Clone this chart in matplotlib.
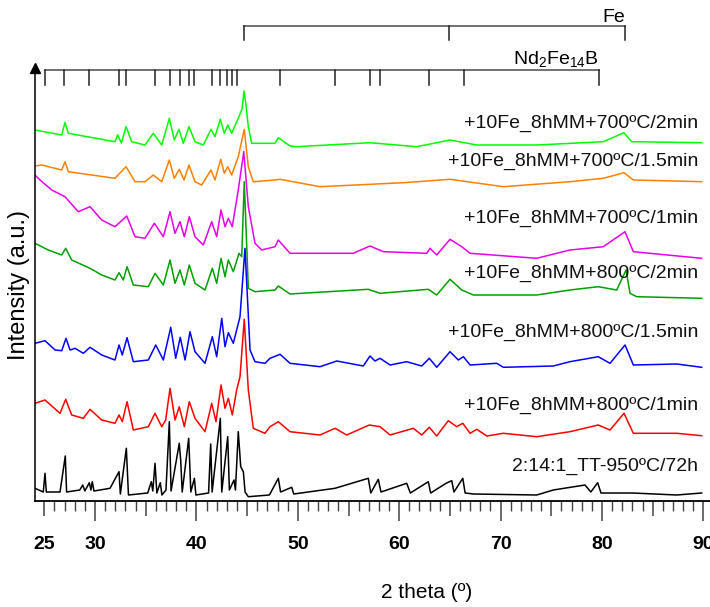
import matplotlib
matplotlib.use("Agg")
import matplotlib.pyplot as plt
from matplotlib.ticker import MultipleLocator

plt.rcParams['font.family'] = ['Liberation Sans', 'DejaVu Sans']
plt.rcParams['mathtext.fontset'] = 'custom'
plt.rcParams['mathtext.rm'] = 'Liberation Sans'
plt.rcParams['mathtext.it'] = 'Liberation Sans:italic'

# ---------------- data (2theta in degrees, intensity in a.u., offset stacked) ----------------
lime_x = [24.08, 26.72, 27.04, 27.37, 31.97, 32.24, 32.6, 33.06, 33.62, 34.93, 35.75, 36.58, 37.33, 37.82,
          38.28, 38.71, 39.27, 39.86, 40.68, 41.44, 41.83, 42.36, 42.75, 43.09, 43.48, 44.13, 44.5, 44.70,
          44.9, 45.12, 45.45, 47.75, 48.08, 49.23, 49.90, 57.12, 61.73, 65.01, 67.65, 73.56, 80.13, 82.17,
          82.93, 89.83]
lime_y = [371, 366, 378.7, 367.7, 359.3, 366, 358, 374.3, 359.3, 356, 367.7, 356, 382.7, 361,
          371.7, 357.7, 374.3, 359.3, 356, 371.7, 364.3, 381.7, 367.7, 376, 367.7, 382.7, 392, 410,
          395, 374.3, 357.7, 357.7, 363.3, 355, 354.3, 358.3, 354.3, 361, 356, 356, 359.3, 368.3,
          359.3, 358.3]

orange_x = [24.08, 24.74, 26.72, 27.04, 27.37, 31.97, 33.06, 33.95, 34.93, 35.75, 36.58, 37.33, 37.82,
            38.31, 38.78, 39.27, 39.86, 40.52, 41.44, 41.83, 42.40, 42.75, 43.09, 43.48, 44.13, 44.72,
            45.12, 45.61, 47.75, 48.25, 52.19, 60.41, 65.01, 70.27, 76.84, 80.13, 82.17, 83.09, 89.83]
orange_y = [335, 336, 331, 339.3, 329.3, 322.7, 334.3, 319.3, 319.3, 326, 319.3, 341, 322.7,
            331.7, 321, 336, 319.3, 316, 331, 321, 341.7, 327.7, 334.3, 326, 344.3, 371.7,
            334.3, 319.3, 321, 321.7, 314.3, 318.3, 321.7, 314.3, 319.3, 322.7, 328.3, 321, 319.3]

magenta_x = [24.08, 24.58, 25.73, 27.04, 28.35, 29.51, 30.66, 31.97, 33.13, 33.95, 34.93, 35.85, 36.74,
             37.40, 37.89, 38.38, 38.81, 39.30, 39.86, 40.68, 41.51, 42.00, 42.43, 42.82, 43.15, 43.54,
             44.13, 44.67, 45.12, 45.78, 46.44, 47.75, 48.08, 49.23, 55.47, 57.12, 58.44, 62.71, 63.04,
             63.70, 65.01, 66.17, 66.99, 73.56, 76.84, 80.13, 82.27, 83.09, 89.83]
magenta_y = [326, 321, 311, 304.3, 289.3, 294.3, 281, 274.3, 285, 264.3, 262.7, 277.7, 264.3,
             289.3, 267.7, 279.3, 264.3, 284.3, 264.3, 256, 279.3, 264.3, 291, 274.3, 282.7, 274.3,
             311, 349.3, 294.3, 257.7, 251, 254.3, 261, 247.7, 247.7, 255, 249.3, 247.7, 252.7,
             246, 261.7, 254.3, 247.7, 242.7, 251, 254.3, 269.3, 249.3, 242.7]

dgreen_x = [24.08, 25.39, 26.72, 27.11, 27.70, 29.51, 30.66, 31.97, 32.37, 32.79, 33.16, 33.78, 35.26,
            35.92, 36.74, 37.40, 37.89, 38.38, 38.81, 39.30, 39.86, 40.85, 41.57, 42.00, 42.43, 42.82,
            43.15, 43.64, 44.20, 44.47, 44.72, 45.12, 45.78, 47.75, 48.08, 49.23, 56.95, 58.11, 62.87,
            63.70, 65.01, 66.17, 67.32, 73.56, 76.84, 79.63, 81.45, 82.37, 82.76, 83.42, 89.83]
dgreen_y = [257.7, 251, 246, 252.7, 241, 232.7, 226, 221, 228.3, 221, 234.3, 216, 214.3,
            227.7, 216, 241, 217.7, 231, 216, 236, 217.7, 211, 232.7, 217.7, 242.7, 224.3,
            241, 229.3, 247.7, 244.3, 319.3, 212.7, 209.3, 211, 215, 207, 211.7, 207.7, 211.7,
            206, 221.7, 211, 206, 206, 211, 214.3, 211, 231, 207.7, 204.3, 202.7]

blue_x = [24.08, 25.07, 26.06, 26.72, 27.14, 27.54, 28.03, 28.85, 29.51, 30.66, 31.97, 32.37, 32.69,
          33.16, 33.78, 35.26, 35.99, 36.74, 37.47, 37.96, 38.41, 38.88, 39.37, 39.86, 40.85, 41.57,
          42.00, 42.50, 42.82, 43.15, 43.64, 44.30, 44.79, 45.29, 45.78, 46.76, 47.26, 48.25, 49.23,
          52.19, 53.84, 56.46, 57.12, 57.61, 58.11, 59.10, 60.74, 62.22, 62.97, 63.70, 65.01, 65.83,
          66.33, 66.99, 69.62, 70.27, 75.20, 76.84, 79.63, 80.79, 82.27, 83.09, 87.37, 89.83]
blue_y = [157.7, 160.3, 151, 150.3, 162.7, 151, 152.7, 147.7, 153.7, 146, 141, 156, 146,
          163.3, 139.3, 141, 156, 141, 173.7, 142.7, 163.7, 141, 169.3, 149.3, 137.7, 164.3,
          144.3, 182.7, 154.3, 168.3, 157.7, 184.3, 252.7, 151, 139.3, 137.7, 142.7, 146.7, 137.7,
          134.3, 140, 135, 145, 140, 142.7, 136, 139.3, 135, 142.7, 133.7, 149.3, 141,
          144.3, 136, 137.7, 133.7, 135, 139.3, 144.3, 137.7, 156, 136, 137, 133.7]

red_x = [24.08, 25.07, 26.55, 27.11, 27.70, 28.85, 29.51, 30.66, 31.97, 32.37, 32.69, 33.16, 33.78,
         35.26, 35.92, 36.58, 36.97, 37.40, 37.89, 38.31, 38.81, 39.30, 39.86, 40.85, 41.51, 41.93,
         42.43, 42.82, 43.15, 43.54, 43.97, 44.30, 44.72, 45.12, 45.61, 46.76, 47.26, 48.08, 49.23,
         52.19, 53.67, 54.82, 57.05, 58.11, 59.10, 61.40, 62.22, 62.97, 63.70, 64.84, 65.67, 66.27,
         66.99, 67.65, 68.64, 70.27, 73.56, 76.84, 79.63, 80.79, 82.17, 83.09, 87.37, 89.83]
red_y = [97.7, 101, 87.7, 101.7, 86, 82.7, 91.7, 81, 77.7, 86, 79.3, 99.3, 71,
         74.3, 87.7, 74.3, 81, 112.7, 81, 94.3, 74.3, 99.3, 82.7, 69.3, 97.7, 79.3,
         116, 92.7, 102.7, 86, 111, 124.3, 181.7, 111, 72.7, 67.7, 74.3, 79.3, 69.3,
         66, 72.7, 66, 76, 74.3, 66, 72.7, 66, 73.7, 65, 80.3, 74.3, 77.7,
         67.7, 71.7, 65, 67.7, 64.3, 69.3, 76, 71, 87.7, 67.7, 67.7, 65.3]

black_x = [24.08, 24.9, 25.07, 25.2, 26.55, 27.07, 27.2, 28.5, 28.79, 29.0, 29.44, 29.6, 29.73, 29.9,
           31.48, 32.37, 32.5, 33.09, 33.3, 35.2, 35.55, 35.7, 35.92, 36.1, 36.44, 36.6, 37.0, 37.33,
           37.5, 38.31, 38.45, 38.6, 39.24, 39.35, 39.45, 39.80, 39.95, 41.2, 41.41, 41.55, 42.36, 42.5,
           43.09, 43.25, 43.71, 43.85, 44.13, 44.37, 44.63, 44.8, 45.12, 47.2, 48.08, 48.3, 49.40, 49.6,
           53.67, 56.95, 57.2, 57.94, 58.2, 60.74, 61.1, 62.87, 63.1, 64.62, 65.18, 65.4, 66.27, 66.5,
           67.32, 73.56, 75.20, 78.32, 78.9, 79.57, 79.9, 83.0, 87.37, 89.83]
black_y = [12.7, 9, 27.7, 9, 9, 45, 9, 11, 16, 10, 18.3, 11, 19.3, 10,
           12.7, 29.3, 7, 52.7, 6, 8, 19.3, 10, 37.7, 8, 18.3, 6, 11, 79.3,
           10, 57.7, 41, 9, 62.7, 35, 9, 22.7, 6, 8, 57, 9, 82.7, 9,
           64.3, 11, 21, 11, 69.3, 34.3, 29.3, 9, 4.3, 6, 22.7, 9, 13.7, 7,
           12.7, 22.7, 8, 21.7, 9, 17.7, 8, 19.3, 8, 17.7, 20.3, 9, 22.7, 8,
           7, 6, 11, 16, 9, 18.3, 8, 8, 6, 8]

series_labels = ['+10Fe_8hMM+700ºC/2min', '+10Fe_8hMM+700ºC/1.5min', '+10Fe_8hMM+700ºC/1min',
                 '+10Fe_8hMM+800ºC/2min', '+10Fe_8hMM+800ºC/1.5min', '+10Fe_8hMM+800ºC/1min',
                 '2:14:1_TT-950ºC/72h']
label_y = [373.3, 335, 278.3, 223.3, 164.3, 91, 30]

fe_peaks = [44.72, 64.95, 82.25]
nd_peaks = [25.07, 26.97, 29.38, 32.37, 33.07, 35.96, 37.41, 38.40, 39.31, 39.81, 41.55, 42.31, 43.0,
            43.53, 44.05, 48.2, 53.63, 57.08, 58.07, 62.98, 66.36, 79.69]

x_major = [25, 30, 35, 40, 45, 50, 55, 60, 65, 70, 75, 80, 85, 90]
x_major_labels = ['25', '30', '', '40', '', '50', '', '60', '', '70', '', '80', '', '90']

# ---------------- figure ----------------
W, H = 710, 607
fig = plt.figure(figsize=(W / 100, H / 100), dpi=100)
ax = fig.add_axes([35 / W, (H - 501) / H, (W - 35) / W, 433 / H])
ax.set_xlim(24.083, 90.65)
ax.set_ylim(0, 433)

series = [(lime_x, lime_y, '#00FF00'), (orange_x, orange_y, '#FF8000'),
          (magenta_x, magenta_y, '#E800E8'), (dgreen_x, dgreen_y, '#00A000'),
          (blue_x, blue_y, '#0000FF'), (red_x, red_y, '#FF0000'), (black_x, black_y, '#000000')]
for xs, ys, c in series:
    ax.plot(xs, ys, color=c, lw=1.1)

for lab, ly in zip(series_labels, label_y):
    ax.text(89.47, ly, lab, ha='right', va='baseline', fontsize=14, color='#111111')

# reference peak markers
fe_h, fe_t = 475, 461
nd_h, nd_t = 431, 416
ax.plot([fe_peaks[0], fe_peaks[-1]], [fe_h, fe_h], color='#666666', lw=1.3, clip_on=False)
for p in fe_peaks:
    ax.plot([p, p], [fe_h, fe_t], color='#222222', lw=1.1, clip_on=False)
ax.plot([nd_peaks[0], nd_peaks[-1]], [nd_h, nd_h], color='#666666', lw=1.3, clip_on=False)
for p in nd_peaks:
    ax.plot([p, p], [nd_h, nd_t], color='#222222', lw=1.1, clip_on=False)
ax.text(82.3, 479.5, 'Fe', ha='right', va='baseline', fontsize=14, clip_on=False)
ax.text(79.7, 437, r'Nd$_2$Fe$_{14}$B', ha='right', va='baseline', fontsize=14, clip_on=False)

# axes styling
for s in ['top', 'right']:
    ax.spines[s].set_visible(False)
ax.spines['bottom'].set_linewidth(1.3)
ax.spines['left'].set_linewidth(1.1)
ax.set_yticks([])
ax.set_xticks(x_major)
ax.set_xticklabels(x_major_labels, fontsize=14, fontweight='bold')
ax.xaxis.set_minor_locator(MultipleLocator(1))
ax.tick_params(axis='x', which='major', length=14.4, width=1.1, color='#444444', pad=11)
ax.tick_params(axis='x', which='minor', length=7.2, width=1.0, color='#444444')
for t, v in zip(ax.xaxis.get_major_ticks(), x_major):
    t.tick1line.set_markersize(10.8 if v % 10 else 14.4)
ax.plot([0], [1], marker='^', ms=7, color='black', transform=ax.transAxes, clip_on=False)

fig.text(427 / W, 1 - 598 / H, '2 theta (º)', ha='center', va='baseline', fontsize=15)
fig.text(19 / W, 1 - 285 / H, 'Intensity (a.u.)', ha='center', va='center', rotation=90, fontsize=17)

fig.savefig('out.png', dpi=100)
